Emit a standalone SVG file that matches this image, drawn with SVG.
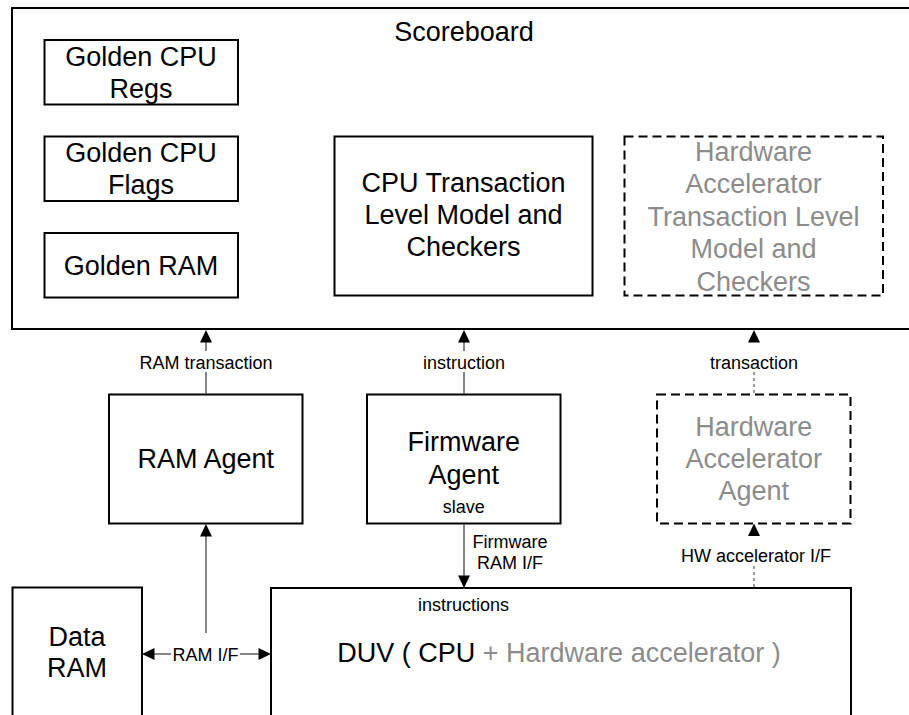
<svg xmlns="http://www.w3.org/2000/svg" width="909" height="715" viewBox="0 0 909 715">
  <style>
    .box { fill: #ffffff; stroke: #000000; stroke-width: 2; }
    .dash { fill: #ffffff; stroke: #000000; stroke-width: 2; stroke-dasharray: 9 5; }
    .big { font-family: "Liberation Sans", Arial, sans-serif; font-size: 27px; fill: #000000; text-anchor: middle; }
    .small { font-family: "Liberation Sans", Arial, sans-serif; font-size: 18px; fill: #000000; text-anchor: middle; }
    .grey { fill: #8c8c8c; }
    .wire { stroke: #505050; stroke-width: 1.4; fill: none; }
    .dot { stroke: #707070; stroke-width: 1.4; fill: none; stroke-dasharray: 3 3; }
    .head { fill: #000000; }
  </style>

  <rect width="909" height="715" fill="#ffffff"/>

  <!-- Scoreboard container -->
  <g id="scoreboard">
    <rect class="box" x="12" y="8" width="910" height="321"/>
    <text class="big" x="464" y="41">Scoreboard</text>
  </g>

  <g id="golden-regs">
    <rect class="box" x="44.5" y="40" width="193.5" height="64.5"/>
    <text class="big" x="141" y="65.5">Golden CPU</text>
    <text class="big" x="141" y="97.5">Regs</text>
  </g>

  <g id="golden-flags">
    <rect class="box" x="44.5" y="136.5" width="193.5" height="64.5"/>
    <text class="big" x="141" y="162">Golden CPU</text>
    <text class="big" x="141" y="194">Flags</text>
  </g>

  <g id="golden-ram">
    <rect class="box" x="44.5" y="233" width="193.5" height="64.5"/>
    <text class="big" x="141" y="275">Golden RAM</text>
  </g>

  <g id="cpu-tlm">
    <rect class="box" x="334.5" y="136.5" width="258" height="159"/>
    <text class="big" x="463.5" y="192">CPU Transaction</text>
    <text class="big" x="463.5" y="224">Level Model and</text>
    <text class="big" x="463.5" y="256">Checkers</text>
  </g>

  <g id="hw-tlm">
    <rect class="dash" x="624.5" y="136.5" width="258.5" height="159"/>
    <text class="big grey" x="753.5" y="160.5">Hardware</text>
    <text class="big grey" x="753.5" y="193">Accelerator</text>
    <text class="big grey" x="753.5" y="225.5">Transaction Level</text>
    <text class="big grey" x="753.5" y="258">Model and</text>
    <text class="big grey" x="753.5" y="290.5">Checkers</text>
  </g>

  <!-- Agents -->
  <g id="ram-agent">
    <rect class="box" x="109" y="394.5" width="193.5" height="129"/>
    <text class="big" x="205.75" y="467.5">RAM Agent</text>
  </g>

  <g id="firmware-agent">
    <rect class="box" x="367" y="394.5" width="193.5" height="129"/>
    <text class="big" x="463.75" y="450.5">Firmware</text>
    <text class="big" x="463.75" y="483.5">Agent</text>
    <text class="small" x="463.75" y="513">slave</text>
  </g>

  <g id="hw-agent">
    <rect class="dash" x="657" y="394.5" width="193.5" height="129"/>
    <text class="big grey" x="753.75" y="436">Hardware</text>
    <text class="big grey" x="753.75" y="468">Accelerator</text>
    <text class="big grey" x="753.75" y="500">Agent</text>
  </g>

  <!-- Memory and design under verification -->
  <g id="data-ram">
    <rect class="box" x="12.5" y="587.5" width="129.5" height="140"/>
    <text class="big" x="77" y="646">Data</text>
    <text class="big" x="77" y="677">RAM</text>
  </g>

  <g id="duv">
    <rect class="box" x="271" y="588" width="580" height="140"/>
    <text class="small" x="463.5" y="610.5">instructions</text>
    <text class="big" x="559" y="662"><tspan>DUV ( CPU </tspan><tspan class="grey">+ Hardware accelerator )</tspan></text>
  </g>

  <!-- Connectors -->
  <g id="connectors">
    <!-- RAM transaction -->
    <line class="wire" x1="206" y1="342" x2="206" y2="351"/>
    <line class="wire" x1="206" y1="372" x2="206" y2="394"/>
    <polygon class="head" points="206,330 200,342.5 212,342.5"/>
    <text class="small" x="206" y="368.5">RAM transaction</text>

    <!-- instruction -->
    <line class="wire" x1="464" y1="342" x2="464" y2="351"/>
    <line class="wire" x1="464" y1="372" x2="464" y2="394"/>
    <polygon class="head" points="464,330 458,342.5 470,342.5"/>
    <text class="small" x="464" y="368.5">instruction</text>

    <!-- HW transaction -->
    <line class="dot" x1="754" y1="372" x2="754" y2="394"/>
    <polygon class="head" points="754,330 748,342.5 760,342.5"/>
    <text class="small" x="754" y="368.5">transaction</text>

    <!-- RAM I/F up to RAM Agent -->
    <line class="wire" x1="206" y1="536" x2="206" y2="633"/>
    <polygon class="head" points="206,524 200,536.5 212,536.5"/>

    <!-- Firmware RAM I/F down to DUV -->
    <line class="wire" x1="464" y1="524" x2="464" y2="576"/>
    <polygon class="head" points="464,588 458,575.5 470,575.5"/>
    <text class="small" x="510" y="547.5">Firmware</text>
    <text class="small" x="510" y="568.5">RAM I/F</text>

    <!-- HW accelerator I/F -->
    <line class="dot" x1="754" y1="566" x2="754" y2="588"/>
    <polygon class="head" points="754,523.5 748,536 760,536"/>
    <text class="small" x="756" y="561.5">HW accelerator I/F</text>

    <!-- RAM I/F between Data RAM and DUV -->
    <line class="wire" x1="154" y1="654" x2="171" y2="654"/>
    <line class="wire" x1="240" y1="654" x2="259" y2="654"/>
    <polygon class="head" points="142,654 154.5,648 154.5,660"/>
    <polygon class="head" points="271,654 258.5,648 258.5,660"/>
    <text class="small" x="205.5" y="660.5">RAM I/F</text>
  </g>
</svg>
